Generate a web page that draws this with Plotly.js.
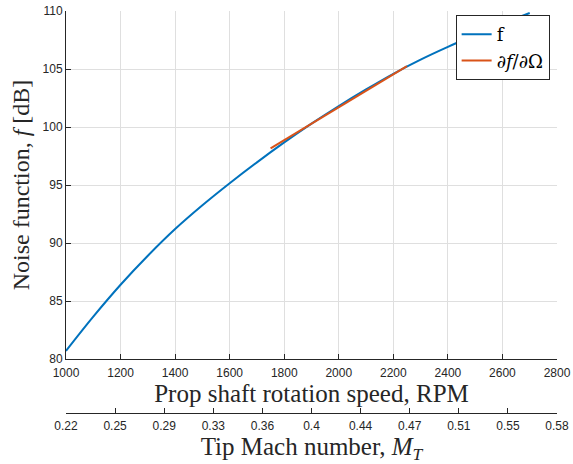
<!DOCTYPE html>
<html>
<head>
<meta charset="utf-8">
<script src="https://cdn.plot.ly/plotly-3.0.1.min.js"></script>
<style>
  html, body { margin: 0; padding: 0; background: #ffffff; }
  #chart { width: 573px; height: 464px; }
</style>
</head>
<body>
<div id="chart"></div>
<script>
// Noise function versus prop shaft speed
const rpm = [1000, 1100, 1200, 1300, 1400, 1500, 1600, 1700, 1800, 1900,
             2000, 2100, 2200, 2300, 2400, 2500, 2600, 2700];
const noiseDb = [80.70, 83.65, 86.40, 88.90, 91.20, 93.25, 95.15, 96.95, 98.67, 100.29,
                 101.81, 103.24, 104.59, 105.81, 106.91, 107.93, 108.91, 109.83];

// Local derivative (tangent) around the 2000 RPM operating point
const tangentRpm = [1750, 2250];
const tangentDb = [98.15, 105.25];

// Primary axis ticks
const rpmTicks = [1000, 1200, 1400, 1600, 1800, 2000, 2200, 2400, 2600, 2800];
const dbTicks = [80, 85, 90, 95, 100, 105, 110];

// Secondary axis: tip Mach number at evenly spaced shaft speeds
const machTickRpm = [1000, 1180, 1360, 1540, 1720, 1900, 2080, 2260, 2440, 2620, 2800];
const machLabels = ['0.22', '0.25', '0.29', '0.33', '0.36', '0.4', '0.44', '0.47', '0.51', '0.55', '0.58'];

const axisColor = '#262626';
const gridColor = '#dfdfdf';
const tickFont = { family: 'Liberation Sans, Arial, sans-serif', size: 12, color: axisColor };
const titleFont = { family: 'Liberation Serif, Times New Roman, serif', size: 25, color: axisColor };

const traces = [
  {
    x: rpm, y: noiseDb, type: 'scatter', mode: 'lines', name: 'f',
    line: { color: '#0072BD', width: 2, shape: 'spline', smoothing: 1 }
  },
  {
    x: tangentRpm, y: tangentDb, type: 'scatter', mode: 'lines',
    name: '∂<i>f</i>/∂Ω',
    line: { color: '#D95319', width: 2 }
  },
  {
    x: machTickRpm, y: machTickRpm.map(() => null), xaxis: 'x2', yaxis: 'y',
    type: 'scatter', mode: 'lines', showlegend: false, hoverinfo: 'skip'
  }
];

const layout = {
  width: 573, height: 464,
  margin: { l: 66, r: 16, t: 11, b: 51 },
  paper_bgcolor: '#ffffff',
  plot_bgcolor: '#ffffff',
  showlegend: true,
  legend: {
    x: 0.985, xanchor: 'right', y: 0.99, yanchor: 'top',
    bgcolor: '#ffffff', bordercolor: axisColor, borderwidth: 1,
    font: { family: 'DejaVu Serif, serif', size: 18, color: '#000000' },
    tracegroupgap: 0
  },
  xaxis: {
    range: [1000, 2800], tickvals: rpmTicks, ticktext: rpmTicks.map(String),
    showline: true, linecolor: axisColor, linewidth: 1, mirror: false,
    ticks: 'inside', ticklen: 5, tickcolor: axisColor,
    showgrid: true, gridcolor: gridColor, zeroline: false,
    tickfont: tickFont, ticklabelstandoff: 3,
    title: { text: 'Prop shaft rotation speed, RPM', font: titleFont, standoff: 1 },
    anchor: 'y'
  },
  xaxis2: {
    overlaying: 'x', anchor: 'free', position: 0, side: 'bottom',
    range: [1000, 2800], tickvals: machTickRpm, ticktext: machLabels,
    showline: true, linecolor: axisColor, linewidth: 1,
    ticks: 'inside', ticklen: 5, tickcolor: axisColor,
    showgrid: false, zeroline: false,
    tickfont: tickFont, ticklabelstandoff: 2,
    title: { text: 'Tip Mach number, <i>M</i><sub><i>T</i></sub>', font: titleFont, standoff: 0 }
  },
  yaxis: {
    domain: [0.1343, 1], range: [80, 110], tickvals: dbTicks,
    showline: true, linecolor: axisColor, linewidth: 1, mirror: false,
    ticks: 'inside', ticklen: 5, tickcolor: axisColor,
    showgrid: true, gridcolor: gridColor, zeroline: false,
    tickfont: tickFont,
    title: { text: 'Noise function, <i>f</i> [dB]', font: { family: titleFont.family, size: 24, color: axisColor }, standoff: 6 }
  }
};

Plotly.newPlot('chart', traces, layout, { displayModeBar: false, staticPlot: true });
</script>
</body>
</html>
